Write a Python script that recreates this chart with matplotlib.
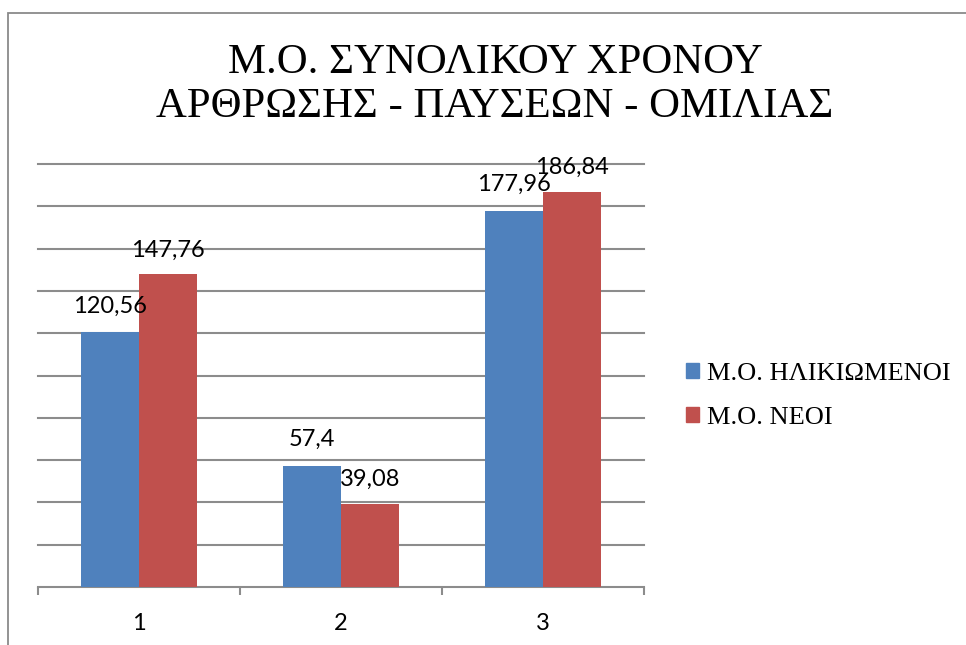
import matplotlib.pyplot as plt
from matplotlib.patches import Rectangle, Patch
import numpy as np

categories = ["1", "2", "3"]
elderly = [120.56, 57.4, 177.96]
young = [147.76, 39.08, 186.84]
series_names = ["Μ.Ο. ΗΛΙΚΙΩΜΕΝΟΙ", "Μ.Ο. ΝΕΟΙ"]
label_texts_elderly = ["120,56", "57,4", "177,96"]
label_texts_young = ["147,76", "39,08", "186,84"]

blue = "#4F81BD"
red = "#C0504D"
grid_color = "#8C8C8C"

fig = plt.figure(figsize=(9.66, 6.45), dpi=100)

# chart border (cropped screenshot, only left/top edges visible)
fig.patches.append(Rectangle((8 / 966, -0.1), 1.2, 1 - 13 / 645 + 0.1,
                             transform=fig.transFigure, fill=False,
                             edgecolor="#8A8A8A", linewidth=1.3))

ax = fig.add_axes([38 / 966, 1 - 587 / 645, (644 - 38) / 966, (587 - 164) / 645])

x = np.arange(1, len(categories) + 1)
w = 0.287
ax.bar(x - w / 2, elderly, width=w, color=blue, zorder=3)
ax.bar(x + w / 2, young, width=w, color=red, zorder=3)

for xi, v, t in zip(x - w / 2, elderly, label_texts_elderly):
    ax.annotate(t, (xi, v), xytext=(0, 14), textcoords="offset points",
                ha="center", va="baseline", fontsize=17, family="Lato", zorder=4)
for xi, v, t in zip(x + w / 2, young, label_texts_young):
    ax.annotate(t, (xi, v), xytext=(0, 13), textcoords="offset points",
                ha="center", va="baseline", fontsize=17, family="Lato", zorder=4)

ax.set_xlim(0.5, 3.5)
ax.set_ylim(0, 200)
ax.set_yticks(np.arange(20, 201, 20))
ax.yaxis.grid(True, color=grid_color, linewidth=1.5)
for gl in ax.get_ygridlines():
    gl.set_clip_on(False)
ax.tick_params(axis="y", length=0, labelleft=False)

ax.set_xticks(x)
ax.set_xticklabels(categories, fontsize=17, family="Lato")
ax.set_xticks([0.5, 1.5, 2.5, 3.5], minor=True)
ax.tick_params(axis="x", which="major", length=0, pad=19)
ax.tick_params(axis="x", which="minor", length=6, width=1.5, color=grid_color, direction="out")

for s in ["top", "right", "left"]:
    ax.spines[s].set_visible(False)
ax.spines["bottom"].set_color(grid_color)
ax.spines["bottom"].set_linewidth(1.5)
ax.set_axisbelow(True)

fig.text(495 / 966, 1 - 85 / 645, "Μ.Ο. ΣΥΝΟΛΙΚΟΥ ΧΡΟΝΟΥ\nΑΡΘΡΩΣΗΣ - ΠΑΥΣΕΩΝ - ΟΜΙΛΙΑΣ",
         ha="center", va="center", fontsize=30.8, family="Liberation Serif",
         linespacing=1.17)

handles = [Patch(color=blue), Patch(color=red)]
fig.legend(handles, series_names, loc="center left",
           bbox_to_anchor=(686 / 966, 1 - 396 / 645), frameon=False,
           prop={"family": "Liberation Serif", "size": 19},
           handlelength=0.5, handleheight=0.5, handletextpad=0.3,
           labelspacing=0.85, borderpad=0, borderaxespad=0)

fig.savefig("out.png", dpi=100)
